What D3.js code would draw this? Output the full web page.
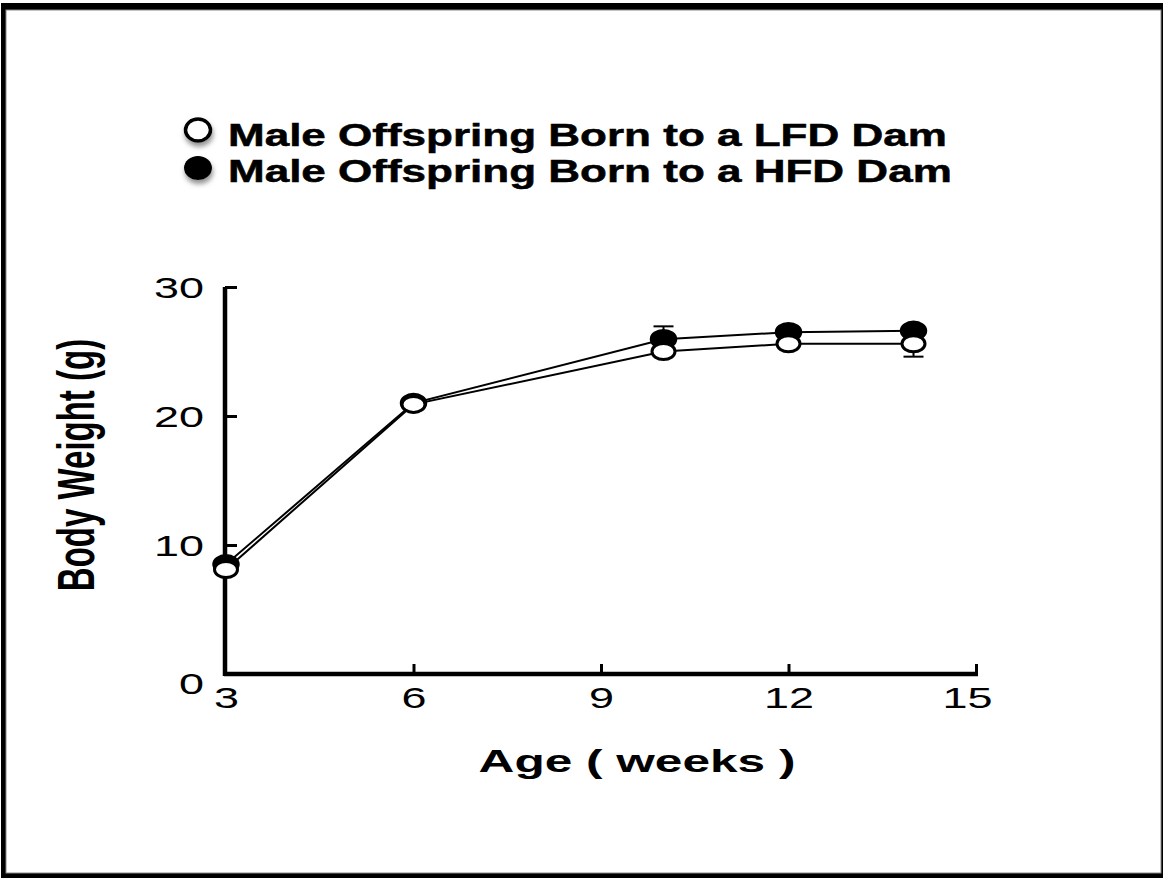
<!DOCTYPE html>
<html>
<head>
<meta charset="utf-8">
<script src="https://cdn.jsdelivr.net/npm/d3@7"></script>
<style>
  body { margin: 0; background: #fff; }
  svg { display: block; }
</style>
</head>
<body>
<div id="app"></div>
<script>
/////////DATA///////////
const weeks = [3, 6, 10, 12, 14];
const lfdWeight = [8.1, 20.9, 25.0, 25.6, 25.6];
const hfdWeight = [8.5, 21.0, 25.95, 26.5, 26.6];
// only the visible error bars (one side each)
const lfdErr = [0, 0, 0, 0, 1.0];
const hfdErr = [0, 0, 1.0, 0, 0];
const xTicks = [3, 6, 9, 12, 15];
const yTicks = [0, 10, 20, 30];
const legendLabels = ['Male Offspring Born to a LFD Dam', 'Male Offspring Born to a HFD Dam'];

const W = 1163, H = 878;
const sx = 1.55; // the original picture is stretched sideways
const font = '"Liberation Sans", Arial, Helvetica, sans-serif';

const svg = d3.select('#app')
  .append('svg')
  .attr('width', W)
  .attr('height', H);

/////////FRAME///////////
svg.append('rect').attr('x', 1).attr('y', 3).attr('width', W - 1).attr('height', H - 3).attr('fill', '#000');
svg.append('rect').attr('x', 6).attr('y', 10).attr('width', 1155).attr('height', 863)
  .attr('fill', '#fff').attr('stroke', '#888').attr('stroke-width', 1);

const defs = svg.append('defs');
defs.append('filter').attr('id', 'shadow')
  .attr('x', '-50%').attr('y', '-50%').attr('width', '200%').attr('height', '200%')
  .append('feDropShadow')
  .attr('dx', 1).attr('dy', 4).attr('stdDeviation', 2.5)
  .attr('flood-color', '#777').attr('flood-opacity', 0.8);

/////////SCALES///////////
const x = d3.scaleLinear().domain([3, 15]).range([226, 976]);
const y = d3.scaleLinear().domain([0, 30]).range([674, 287]);

function label(g, px, py, str, size, weight, anchor, stretch) {
  return g.append('text')
    .attr('transform', `translate(${px},${py}) scale(${stretch},1)`)
    .attr('font-family', font)
    .attr('font-size', size)
    .attr('font-weight', weight)
    .attr('text-anchor', anchor)
    .attr('fill', '#000')
    .text(str);
}

/////////AXES///////////
const yAxis = d3.axisLeft(y).tickValues(yTicks).tickSizeInner(-12).tickSizeOuter(0).tickPadding(0);
const gy = svg.append('g').attr('transform', 'translate(225,0)').call(yAxis);
gy.select('.domain').attr('stroke-width', 4.5).attr('d', `M0,${y(0) + 2}V${y(30)}`);
gy.selectAll('.tick line').attr('stroke-width', 3).attr('stroke', '#000');
gy.selectAll('.tick').filter(d => d === 0).select('line').remove();
gy.selectAll('.tick text')
  .attr('font-family', font)
  .attr('font-size', 29)
  .attr('x', -21 / sx)
  .attr('dy', d => d === 0 ? '0.66em' : '0.36em')
  .attr('transform', `scale(${sx},1)`)
  .attr('fill', '#000');

const xAxis = d3.axisBottom(x).tickValues(xTicks).tickSizeInner(-10).tickSizeOuter(0).tickPadding(13);
const gx = svg.append('g').attr('transform', `translate(0,${y(0)})`).call(xAxis);
gx.select('.domain').attr('stroke-width', 4.5).attr('d', `M${x(3) - 2},0H${x(15) + 2}`);
gx.selectAll('.tick line').attr('stroke-width', 3).attr('stroke', '#000');
gx.selectAll('.tick').filter(d => d === 3).select('line').remove();
gx.selectAll('.tick text')
  .attr('font-family', font)
  .attr('font-size', 29)
  .attr('x', d => d === 15 ? -9 / sx : 0)
  .attr('transform', `scale(${sx},1)`)
  .attr('fill', '#000');

/////////AXIS TITLES///////////
label(svg, 637, 772, 'Age ( weeks )', 32, 'bold', 'middle', sx);
svg.append('text')
  .attr('transform', `translate(94,465) scale(${sx},1) rotate(-90)`)
  .attr('font-family', font)
  .attr('font-size', 33)
  .attr('font-weight', 'bold')
  .attr('text-anchor', 'middle')
  .text('Body Weight (g)');

/////////SERIES///////////
const line = d3.line().x(d => x(d[0])).y(d => y(d[1]));
const hfd = weeks.map((w, i) => [w, hfdWeight[i], hfdErr[i]]);
const lfd = weeks.map((w, i) => [w, lfdWeight[i], lfdErr[i]]);

function errorBars(data, dir) {
  const g = svg.append('g').attr('stroke', '#000').attr('stroke-width', 2);
  data.filter(d => d[2] > 0).forEach(d => {
    const y1 = y(d[1] + dir * d[2]);
    g.append('line').attr('x1', x(d[0])).attr('x2', x(d[0])).attr('y1', y(d[1])).attr('y2', y1);
    g.append('line').attr('x1', x(d[0]) - 10).attr('x2', x(d[0]) + 10).attr('y1', y1).attr('y2', y1);
  });
}

errorBars(hfd, 1);
errorBars(lfd, -1);

svg.append('path').datum(hfd).attr('d', line)
  .attr('fill', 'none').attr('stroke', '#000').attr('stroke-width', 2);
svg.append('path').datum(lfd).attr('d', line)
  .attr('fill', 'none').attr('stroke', '#000').attr('stroke-width', 2);

svg.append('g').selectAll('ellipse').data(hfd).join('ellipse')
  .attr('cx', d => x(d[0])).attr('cy', d => y(d[1]))
  .attr('rx', 12.5).attr('ry', 9)
  .attr('fill', '#000').attr('stroke', '#000').attr('stroke-width', 2.5);

svg.append('g').selectAll('ellipse').data(lfd).join('ellipse')
  .attr('cx', d => x(d[0])).attr('cy', d => y(d[1]))
  .attr('rx', 11.5).attr('ry', 8)
  .attr('fill', '#fff').attr('stroke', '#000').attr('stroke-width', 3);

/////////LEGEND///////////
const legend = svg.append('g');
legend.append('ellipse').attr('cx', 198).attr('cy', 130).attr('rx', 12.5).attr('ry', 11)
  .attr('fill', '#fff').attr('stroke', '#000').attr('stroke-width', 3.5)
  .attr('filter', 'url(#shadow)');
legend.append('ellipse').attr('cx', 198).attr('cy', 168).attr('rx', 14).attr('ry', 12)
  .attr('fill', '#000')
  .attr('filter', 'url(#shadow)');
label(legend, 228, 146, legendLabels[0], 31, 'bold', 'start', 1.42)
  .attr('stroke', '#000').attr('stroke-width', 0.5);
label(legend, 228, 182, legendLabels[1], 31, 'bold', 'start', 1.42)
  .attr('stroke', '#000').attr('stroke-width', 0.5);
</script>
</body>
</html>
